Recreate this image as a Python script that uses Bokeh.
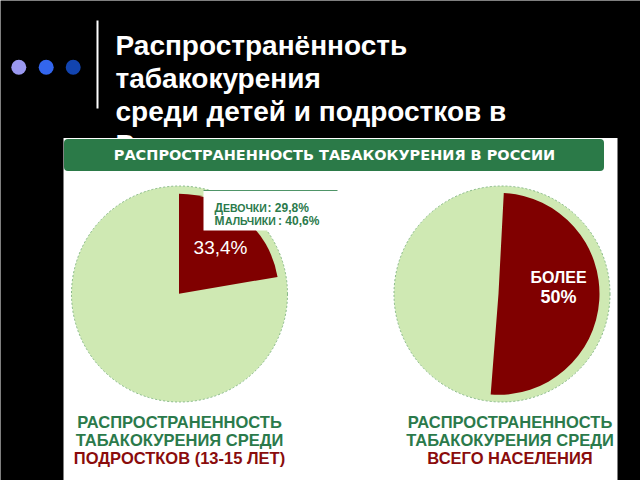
from bokeh.plotting import figure
from bokeh.models import ColumnDataSource, Range1d
from bokeh.core.properties import value
from bokeh.embed import file_html
from bokeh.resources import INLINE

# ---------------- data ----------------
title_lines = ["Распространённость", "табакокурения", "среди детей и подростков в", "России"]
header_text = "РАСПРОСТРАНЕННОСТЬ ТАБАКОКУРЕНИЯ В РОССИИ"
groups = ["Подростки 13-15 лет", "Всё население"]
# share of each circle covered by the dark (smoking) slice, as drawn in the picture (%)
slice_share_drawn = [22.3, 50.4]
slice_label_teen = "33,4%"
slice_label_all = ["БОЛЕЕ", "50%"]
girls_label = ["Д", "ЕВОЧКИ", ": 29,8%"]
boys_label = ["М", "АЛЬЧИКИ", ": 40,6%"]
caption_green = ["РАСПРОСТРАНЕННОСТЬ", "ТАБАКОКУРЕНИЯ СРЕДИ"]
caption_red = ["ПОДРОСТКОВ (13-15 ЛЕТ)", "ВСЕГО НАСЕЛЕНИЯ"]

# ---------------- layout / style ----------------
W, H = 640, 480
def sy(v):
    return H - v

FONT = value("Liberation Sans")
GREEN_TXT = "#2b7a4b"
RED_TXT = "#8a0c0c"
SLICE = "#800000"
PIE = "#cfe9b3"

p = figure(width=W, height=H, x_range=Range1d(0, W), y_range=Range1d(0, H),
           output_backend="svg", toolbar_location=None, min_border=0)
p.axis.visible = False
p.grid.visible = False
p.outline_line_color = None
p.background_fill_color = "black"
p.border_fill_color = "black"

# bullets and vertical rule
p.scatter(x=[18.3, 45.7, 72.7], y=[sy(66.7)] * 3, size=15, line_color=None,
          fill_color=["#9a98f0", "#3366ee", "#1244b0"])
p.segment(x0=[97], y0=[sy(20)], x1=[97], y1=[sy(108)], line_color="white", line_width=2)

# slide title
tsrc = ColumnDataSource(dict(x=[115] * len(title_lines),
                             y=[sy(45 + 33 * i) for i in range(len(title_lines))],
                             t=title_lines))
p.text(x="x", y="y", text="t", source=tsrc, text_font=FONT, text_font_size="28px",
       text_font_style="bold", text_color="white", text_align="left",
       text_baseline="alphabetic")

# white panel
p.quad(left=[63], right=[617], top=[sy(137.5)], bottom=[sy(480)], fill_color="white",
       line_color=None)
# green header bar
p.quad(left=[63.5], right=[603.5], top=[sy(138.5)], bottom=[sy(170.5)],
       fill_color="#2b7a48", line_color=None, border_radius=4)
p.text(x=[334], y=[sy(154.5)], text=[header_text], text_font=value("DejaVu Sans"),
       text_font_size="14.5px", text_font_style="bold", text_color="white",
       text_align="center", text_baseline="middle")

# pies
pie_cx = [179, 501.5]
pie_cy = 293.5
pie_r = 108
p.circle(x=pie_cx, y=[sy(pie_cy)] * 2, radius=pie_r, fill_color=PIE,
         line_color="#86b886", line_width=1, line_dash="2 2")

slice_cx = [178.5, 498]
slice_cy = 293.3
slice_r = [100, 101]
slice_end = [90, 87]
slice_start = [e - s / 100 * 360 for e, s in zip(slice_end, slice_share_drawn)]
wsrc = ColumnDataSource(dict(x=slice_cx, y=[sy(slice_cy)] * 2, r=slice_r,
                             s=slice_start, e=slice_end, g=groups))
p.wedge(x="x", y="y", radius="r", start_angle="s", end_angle="e",
        start_angle_units="deg", end_angle_units="deg",
        direction="anticlock", source=wsrc, fill_color=SLICE, line_color=None)

# annotation box for teen slice
p.quad(left=[203], right=[337], top=[sy(190)], bottom=[sy(230)], fill_color="white",
       line_color=None)
p.segment(x0=[203], y0=[sy(190)], x1=[337], y1=[sy(190)], line_color="#4f9568",
          line_width=1)
big = ColumnDataSource(dict(x=[214, 214, 267, 277.5], y=[sy(207), sy(220), sy(207), sy(220)],
                            t=[girls_label[0], boys_label[0], girls_label[2], boys_label[2]]))
small = ColumnDataSource(dict(x=[222.5, 224.5], y=[sy(207), sy(220)],
                              t=[girls_label[1], boys_label[1]]))
p.text(x="x", y="y", text="t", source=big, text_font=FONT, text_font_size="12px",
       text_font_style="bold", text_color=GREEN_TXT, text_align="left",
       text_baseline="alphabetic")
p.text(x="x", y="y", text="t", source=small, text_font=FONT, text_font_size="10.5px",
       text_font_style="bold", text_color=GREEN_TXT, text_align="left",
       text_baseline="alphabetic")

# slice labels
p.text(x=[220], y=[sy(247)], text=[slice_label_teen], text_font=FONT,
       text_font_size="19px", text_color="white", text_align="center",
       text_baseline="middle")
p.text(x=[558], y=[sy(277)], text=[slice_label_all[0]], text_font=FONT,
       text_font_size="16px", text_font_style="bold", text_color="white",
       text_align="center", text_baseline="middle")
p.text(x=[558], y=[sy(296)], text=[slice_label_all[1]], text_font=FONT,
       text_font_size="18px", text_font_style="bold", text_color="white",
       text_align="center", text_baseline="middle")

# captions
cap_x = [179, 509.5]
gsrc = ColumnDataSource(dict(
    x=[cap_x[0], cap_x[0], cap_x[1], cap_x[1]],
    y=[sy(421), sy(439), sy(421), sy(439)],
    t=caption_green * 2))
p.text(x="x", y="y", text="t", source=gsrc, text_font=FONT, text_font_size="16.5px",
       text_font_style="bold", text_color=GREEN_TXT, text_align="center",
       text_baseline="middle")
rsrc = ColumnDataSource(dict(x=cap_x, y=[sy(457.5)] * 2, t=caption_red))
p.text(x="x", y="y", text="t", source=rsrc, text_font=FONT, text_font_size="16.5px",
       text_font_style="bold", text_color=RED_TXT, text_align="center",
       text_baseline="middle")

open("out.html", "w").write(file_html(p, INLINE))
